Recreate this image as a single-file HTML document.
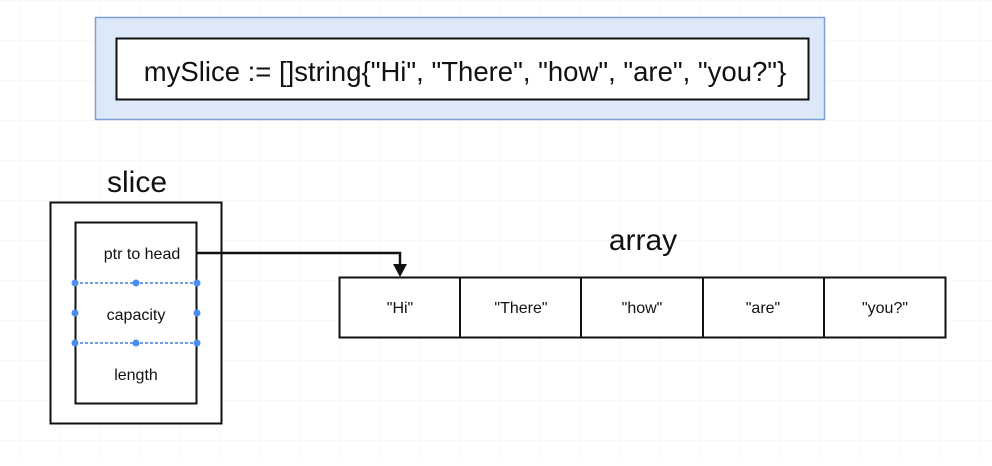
<!DOCTYPE html>
<html><head><style>
body{margin:0;width:992px;height:461px;overflow:hidden;background:#fff;font-family:"Liberation Sans",sans-serif;}
</style></head><body>
<svg width="992" height="461" xmlns="http://www.w3.org/2000/svg" font-family="Liberation Sans, sans-serif">
<defs><pattern id="g" width="40" height="40" patternUnits="userSpaceOnUse" x="20" y="0"><path d="M40 0H0V40" fill="none" stroke="#f3f3f3" stroke-width="1"/></pattern></defs>
<rect width="992" height="461" fill="url(#g)"/>
<rect x="95.5" y="17.5" width="729" height="102" fill="#dde8f9" stroke="#7b9fd4" stroke-width="1.5"/>
<rect x="116.5" y="38.5" width="692" height="61" fill="#fff" stroke="#111" stroke-width="2"/>
<text x="465" y="81" font-size="27.5" text-anchor="middle" fill="#111">mySlice := []string{"Hi", "There", "how", "are", "you?"}</text>
<text x="137" y="192" font-size="30" text-anchor="middle" fill="#111">slice</text>
<rect x="50.5" y="202.5" width="171" height="221" fill="#fff" stroke="#111" stroke-width="2"/>
<rect x="75.5" y="222.5" width="121" height="181" fill="#fff" stroke="#111" stroke-width="2"/>
<line x1="75" y1="283" x2="197" y2="283" stroke="#3b7de0" stroke-width="1.5" stroke-dasharray="3,2"/>
<line x1="75" y1="343" x2="197" y2="343" stroke="#3b7de0" stroke-width="1.5" stroke-dasharray="3,2"/>
<g fill="#4a8ef0"><circle cx="75" cy="283" r="3.5"/><circle cx="136" cy="283" r="3.5"/><circle cx="197" cy="283" r="3.5"/><circle cx="75" cy="313" r="3.5"/><circle cx="197" cy="313" r="3.5"/><circle cx="75" cy="343" r="3.5"/><circle cx="136" cy="343" r="3.5"/><circle cx="197" cy="343" r="3.5"/></g>
<g font-size="16" text-anchor="middle" fill="#111">
<text x="142" y="259">ptr to head</text>
<text x="136" y="320">capacity</text>
<text x="136" y="380">length</text>
</g>
<path d="M197 253H400V266" fill="none" stroke="#111" stroke-width="2.5"/>
<path d="M393 264L400 277L407 264Z" fill="#111"/>
<text x="643" y="250" font-size="30" text-anchor="middle" fill="#111">array</text>
<rect x="339.5" y="277.5" width="606" height="60" fill="#fff" stroke="#111" stroke-width="2"/>
<g stroke="#111" stroke-width="2"><line x1="460" y1="277" x2="460" y2="338"/><line x1="581" y1="277" x2="581" y2="338"/><line x1="703" y1="277" x2="703" y2="338"/><line x1="824" y1="277" x2="824" y2="338"/></g>
<g font-size="16" text-anchor="middle" fill="#111">
<text x="400" y="313">"Hi"</text><text x="521" y="313">"There"</text><text x="642" y="313">"how"</text><text x="763" y="313">"are"</text><text x="885" y="313">"you?"</text>
</g>
</svg>
</body></html>
